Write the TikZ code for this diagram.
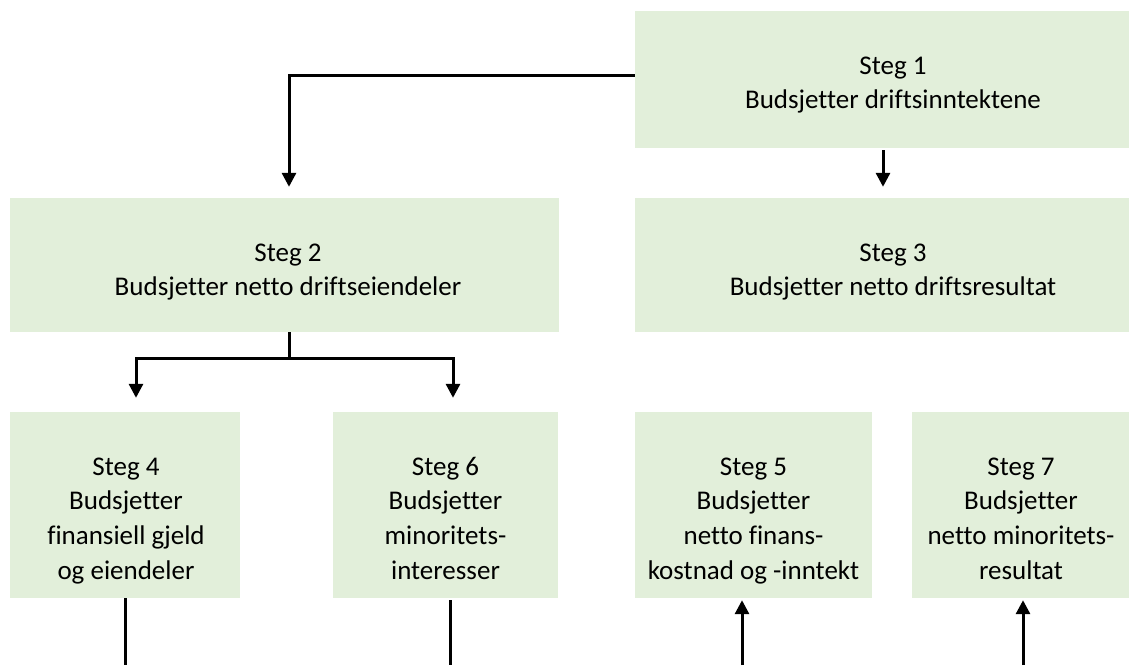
\documentclass[tikz,border=0pt]{standalone}
\usepackage{fontspec}
\setmainfont{Carlito}[Ligatures=NoCommon]
\usetikzlibrary{arrows.meta}
\definecolor{boxgreen}{RGB}{226,239,218}
\begin{document}
\begin{tikzpicture}[x=1pt,y=-1pt,
  stepbox/.style={fill=boxgreen, draw=none, inner sep=0pt},
  steptext/.style={inner sep=0pt, align=center, anchor=north,
    font=\fontsize{27}{34.7}\selectfont, text=black},
  conn/.style={line width=3pt, -{Triangle[width=14pt,length=14pt]}},
  plain/.style={line width=3pt}]
\useasboundingbox (0,0) rectangle (1129,665);

% step boxes
\node[stepbox, minimum width=516pt, minimum height=137pt] (s1) at (893,79.5) {};
\node[stepbox, minimum width=549pt, minimum height=134pt] (s2) at (284.5,265) {};
\node[stepbox, minimum width=516pt, minimum height=134pt] (s3) at (893,265) {};
\node[stepbox, minimum width=230pt, minimum height=186pt] (s4) at (125,505) {};
\node[stepbox, minimum width=225pt, minimum height=186pt] (s6) at (445.5,505) {};
\node[stepbox, minimum width=237pt, minimum height=186pt] (s5) at (753.5,505) {};
\node[stepbox, minimum width=218pt, minimum height=186pt] (s7) at (1021,505) {};

% box texts (first baseline 24.3pt below the node top)
\node[steptext] (t1) at (893,49.7) {\strut Steg 1\\Budsjetter driftsinntektene};
\node[steptext] (t2) at (288,236.7) {\strut Steg 2\\Budsjetter netto driftseiendeler};
\node[steptext] (t3) at (893,236.7) {\strut Steg 3\\Budsjetter netto driftsresultat};
\node[steptext] (t4) at (126,450.7) {\strut Steg 4\\Budsjetter\\finansiell gjeld\\og eiendeler};
\node[steptext] (t6) at (445.5,450.7) {\strut Steg 6\\Budsjetter\\minoritets-\\interesser};
\node[steptext] (t5) at (753.5,450.7) {\strut Steg 5\\Budsjetter\\netto finans-\\kostnad og -inntekt};
\node[steptext] (t7) at (1021,450.7) {\strut Steg 7\\Budsjetter\\netto minoritets-\\resultat};

% free ends at the lower edge
\coordinate (e4) at (125,665);
\coordinate (e6) at (450,665);
\coordinate (e5) at (742,665);
\coordinate (e7) at (1023,665);

% connectors
\draw[conn] ([yshift=4.5pt]s1.west) -| ([xshift=4.5pt,yshift=11pt]s2.north);
\draw[conn] ([xshift=-10pt,yshift=-2pt]s1.south) -- ([xshift=-10pt,yshift=11pt]s3.north);

\draw[plain] ([xshift=4.5pt]s2.south) -- ++(0,26) coordinate (fork);
\draw[conn] (fork) -| ([xshift=11pt,yshift=14pt]s4.north);
\draw[conn] (fork) -| ([xshift=7.5pt,yshift=14pt]s6.north);

\draw[plain] (s4.south) -- (e4);
\draw[plain] ([xshift=4.5pt,yshift=-2pt]s6.south) -- (e6);
\draw[conn] (e5) -- ([xshift=-11.5pt,yshift=-2pt]s5.south);
\draw[conn] (e7) -- ([xshift=2pt,yshift=-2pt]s7.south);
\end{tikzpicture}
\end{document}
